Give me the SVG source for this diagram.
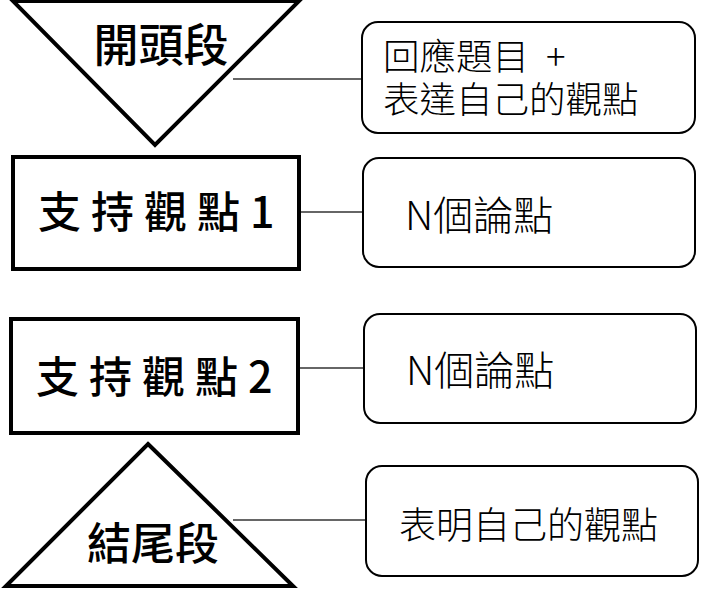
<svg xmlns="http://www.w3.org/2000/svg" width="722" height="600" viewBox="0 0 722 600">
<style>
.shape{fill:#fff;stroke:#000;stroke-width:4;stroke-linejoin:miter}
.box{fill:#fff;stroke:#000;stroke-width:2}
.conn{stroke:#333;stroke-width:1.3;fill:none}
.big{font-family:"Noto Sans CJK TC","Noto Sans CJK SC",sans-serif;font-weight:500;fill:#000}
.small{font-family:"Noto Sans CJK TC","Noto Sans CJK SC",sans-serif;font-weight:300;fill:#000}
</style>
<rect width="722" height="600" fill="#fff"/>
<g id="connectors">
<line class="conn" x1="233" y1="79" x2="362" y2="79"/>
<line class="conn" x1="300" y1="212" x2="363" y2="212"/>
<line class="conn" x1="299" y1="368" x2="364" y2="368"/>
<line class="conn" x1="233" y1="520" x2="366" y2="520"/>
</g>
<g id="intro">
<polygon class="shape" points="13,1 299,1 155,145"/>
<text class="big" x="161" y="62" font-size="45" text-anchor="middle">開頭段</text>
</g>
<g id="intro-note">
<rect class="box" x="362" y="22" width="333" height="111" rx="16"/>
<text class="small" x="383" y="70" font-size="36.5">回應題目 <tspan x="546">+</tspan></text>
<text class="small" x="383" y="113" font-size="36.5">表達自己的觀點</text>
</g>
<g id="support1">
<rect class="shape" x="13" y="157" width="286" height="112"/>
<text class="big" x="38" y="228" font-size="43" letter-spacing="10">支持觀點1</text>
</g>
<g id="support1-note">
<rect class="box" x="363" y="158" width="332" height="109" rx="16"/>
<text class="small" x="405" y="230" font-size="40">N個論點</text>
</g>
<g id="support2">
<rect class="shape" x="11" y="319" width="287" height="114"/>
<text class="big" x="36" y="393" font-size="43" letter-spacing="10">支持觀點2</text>
</g>
<g id="support2-note">
<rect class="box" x="364" y="314" width="332" height="109" rx="16"/>
<text class="small" x="406" y="385" font-size="40">N個論點</text>
</g>
<g id="conclusion">
<polygon class="shape" points="148,444 293,586 6,586"/>
<text class="big" x="153" y="560" font-size="44" text-anchor="middle">結尾段</text>
</g>
<g id="conclusion-note">
<rect class="box" x="366" y="466" width="332" height="110" rx="16"/>
<text class="small" x="399" y="539" font-size="37">表明自己的觀點</text>
</g>
</svg>
